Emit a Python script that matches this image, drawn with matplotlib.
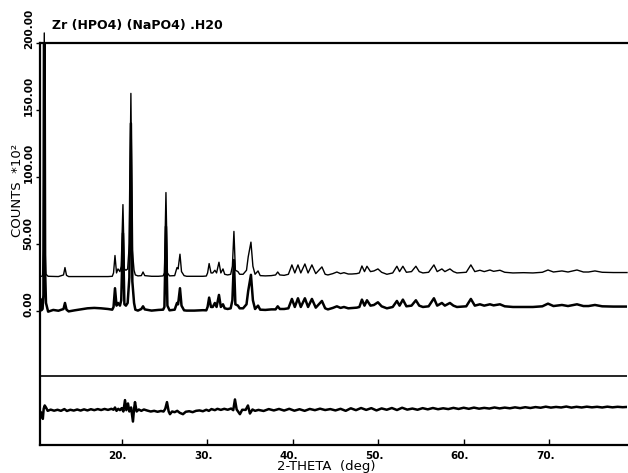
import numpy as np
import matplotlib
matplotlib.use("Agg")
import matplotlib.pyplot as plt
from matplotlib.transforms import ScaledTranslation

# 2-theta vertices shared by observed and calculated patterns
tt = [10.45, 10.52, 10.60, 10.75, 10.85, 10.95, 11.05, 11.15, 11.40, 12.00,
      12.60, 13.20, 13.37, 13.55, 13.80, 14.50, 15.20, 16.00, 16.80, 17.60,
      18.40, 18.90, 19.05, 19.22, 19.40, 19.57, 19.80, 19.95, 20.15, 20.32,
      20.50, 20.70, 20.90, 21.08, 21.25, 21.45, 21.60, 21.90, 22.30, 22.50,
      22.70, 23.50, 24.30, 24.85, 25.00, 25.18, 25.35, 25.60, 26.20, 26.47,
      26.60, 26.82, 27.00, 27.30, 27.60, 28.50, 29.50, 29.90, 30.05, 30.23,
      30.45, 30.65, 30.90, 31.10, 31.38, 31.60, 31.85, 32.05, 32.40, 32.75,
      32.95, 33.13, 33.30, 33.60, 33.80, 34.20, 34.60, 34.80, 35.12, 35.35,
      35.60, 35.95, 36.20, 36.80, 37.50, 38.00, 38.25, 38.50, 39.00, 39.50,
      39.91, 40.25, 40.62, 40.95, 41.43, 41.80, 42.25, 42.70, 43.42, 43.80,
      44.12, 44.70, 45.17, 45.60, 46.00, 46.50, 46.93, 47.50, 47.80, 48.10,
      48.40, 48.69, 49.10, 49.50, 49.97, 50.40, 51.02, 51.70, 52.19, 52.50,
      52.89, 53.30, 53.90, 54.41, 54.80, 55.23, 55.90, 56.52, 56.90, 57.45,
      57.80, 58.39, 58.80, 59.21, 60.30, 60.84, 61.30, 61.90, 62.40, 63.07,
      63.50, 64.24, 64.80, 65.76, 67.00, 68.10, 69.20, 69.86, 70.50, 71.49,
      72.20, 73.25, 74.00, 74.60, 75.35, 76.20, 77.50, 79.10]

calc = [0.5, 0.5, 0.5, 0.8, 20, 320, 20, 2, 0.5, 0.4,
        0.3, 1.5, 7, 1.2, 0.3, 0.3, 0.3, 0.3, 0.3, 0.3,
        0.3, 0.5, 3, 16, 3, 6, 4, 8, 54, 6,
        5, 6, 25, 137, 20, 5, 1.5, 0.8, 1, 3.7,
        1, 0.5, 0.5, 0.8, 3, 63, 3, 0.8, 1, 7,
        6, 17, 4, 1, 0.5, 0.5, 0.5, 0.7, 3, 10,
        3, 3, 5, 3, 11, 3, 6, 2, 1.5, 2,
        8, 34, 5, 4, 2, 2, 5, 15, 26, 8,
        2, 4.5, 1, 0.8, 1, 1.5, 3.7, 1.5, 1.2, 2,
        9, 3, 9, 3, 9.7, 3, 9, 2.5, 7.5, 2,
        1.5, 2.5, 3.7, 2.5, 3.2, 2.2, 2.2, 2.5, 3, 8.2,
        4, 8, 4, 4.5, 6, 3.5, 2, 3, 8, 4,
        8, 3.5, 4, 8, 4, 3, 3.5, 9, 4, 6,
        4, 6, 4, 3, 3.5, 9, 4, 5, 4, 5.2,
        4.2, 5, 3.5, 3, 3.2, 3, 3.5, 5.2, 3.7, 4.5,
        3.7, 5.2, 3.7, 3.7, 4.5, 3.5, 3.3, 3.3]

obs = [1, 9, 0.5, 1.5, 12, 320, 30, 6, -0.5, 0.8,
       0.2, 1.5, 6, 1, -0.3, 0.5, 1.2, 2, 2.3, 2,
       1.5, 1, 3, 17, 4, 6, 4, 8, 58, 5,
       4, 6, 25, 140, 22, 6, 1, 0.3, 1.5, 3.5,
       1.2, 0.3, 0.8, 1, 3, 63, 4, 0.5, 1, 6,
       5, 17, 4, 0.5, 0.3, 0.3, 0.6, 0.5, 3, 10,
       3, 3, 6, 3, 12, 3, 5, 2, 1.5, 2,
       8, 38, 5, 4, 2, 2, 5, 15, 27, 8,
       1.5, 4, 1, 0.8, 1.2, 1.2, 3.5, 1.5, 1.5, 2,
       9, 3, 9.5, 3, 9.5, 3, 9, 2.5, 7.5, 2,
       1.2, 2.3, 3.5, 2.3, 3, 2, 2.2, 2.5, 3, 8.5,
       4, 8, 4, 4.5, 6.5, 3.5, 2, 3, 7.5, 4,
       8.5, 3.5, 4, 8, 4, 3, 3.5, 9.5, 4, 6,
       4, 6, 4, 3, 3.5, 9, 4, 5, 4, 5,
       4.2, 5, 3.5, 3, 3, 3, 3.5, 5.5, 3.7, 4.5,
       3.7, 5, 3.7, 3.7, 4.5, 3.5, 3.3, 3.3]

# difference curve (obs - calc)
tt_diff = [10.45, 10.62, 10.78, 10.88, 11.00, 11.15, 11.35, 11.70, 12.10, 12.50,
           12.90, 13.30, 13.60, 14.00, 14.40, 14.80, 15.20, 15.60, 16.00, 16.40,
           16.80, 17.20, 17.60, 18.00, 18.40, 18.80, 19.05, 19.22, 19.40, 19.60,
           19.80, 20.00, 20.20, 20.39, 20.55, 20.74, 20.90, 21.10, 21.32, 21.45,
           21.56, 21.75, 22.00, 22.30, 22.60, 23.00, 23.40, 23.80, 24.20, 24.60,
           24.90, 25.10, 25.30, 25.50, 25.65, 25.90, 26.20, 26.50, 26.80, 27.17,
           27.50, 27.90, 28.30, 28.70, 29.10, 29.50, 29.90, 30.20, 30.50, 30.90,
           31.20, 31.60, 32.00, 32.40, 32.80, 33.05, 33.25, 33.45, 33.83, 34.10,
           34.50, 34.77, 35.00, 35.30, 35.60,
           36.0, 36.6, 37.2, 37.8, 38.4, 39.0, 39.6, 40.2, 40.8, 41.4,
           42.0, 42.6, 43.2, 43.8, 44.4, 45.0, 45.6, 46.2, 46.8, 47.4,
           48.0, 48.6, 49.2, 49.8, 50.4, 51.0, 51.6, 52.2, 52.8, 53.4,
           54.0, 54.6, 55.2, 55.8, 56.4, 57.0, 57.6, 58.2, 58.8, 59.4,
           60.0, 60.6, 61.2, 61.8, 62.4, 63.0, 63.6, 64.2, 64.8, 65.4,
           66.0, 66.6, 67.2, 67.8, 68.4, 69.0, 69.6, 70.2, 70.8, 71.4,
           72.0, 72.6, 73.2, 73.8, 74.4, 75.0, 75.6, 76.2, 76.8, 77.4,
           78.0, 78.6, 79.1]
diff = [-1, -2, -6.5, 1, 3.5, 2, -0.5, 0.4, -0.4, 0.3,
        -0.5, 0.8, -0.6, 0.3, -0.3, 0.5, -0.3, 0.6, -0.2, 0.7,
        0, 0.8, 0.1, 0.9, 0.2, 1, 0.3, 2, -0.5, 1,
        0, 1.5, -1, 7.5, 0, 5, -1, 2, -8.5, 1,
        6, -1, 0.5, -0.5, 0.5, -0.3, -1, -0.5, -1.2, -0.6,
        -1, 1, 6, -1, -3, -1, -1.5, -0.5, -2, -3,
        -1.2, -0.8, -1.5, -0.5, -0.2, -0.8, 0.3, -0.5, 0.8, 0,
        1, 0.2, 1, 0.3, 1.2, 0, 8, 0.5, -3, 0.3,
        0.2, 3.5, -2.5, 0.5, -0.5,
        0.2, -0.6, 0.8, -0.2, 0.9, -0.3, 1.0, -0.4, 0.7, -0.5,
        0.9, 0.0, 1.1, 0.1, 0.8, -0.2, 1.0, -0.5, 1.4, 0.0,
        1.6, 0.2, 1.5, -0.2, 1.3, 0.3, 1.6, 0.1, 1.8, 0.4,
        1.2, 0.3, 1.5, 0.6, 1.6, 0.7, 1.4, 0.8, 1.7, 0.9,
        1.8, 1.0, 1.9, 1.1, 1.7, 1.2, 2.0, 1.3, 1.9, 1.4,
        2.1, 1.5, 2.2, 1.6, 2.3, 1.8, 2.6, 1.9, 2.4, 2.0,
        2.7, 1.9, 2.5, 2.0, 2.6, 2.1, 2.5, 2.0, 2.6, 2.1,
        2.5, 2.2, 2.4]

calc_offset = 25.4
diff_offset = -74.0
sep_level = -48.5

xticks = [20, 30, 40, 50, 60, 70]
yticks = [0, 50, 100, 150, 200]

fig = plt.figure(figsize=(6.28, 4.73), dpi=100)
ax = fig.add_axes([40 / 628, 28 / 473, 587 / 628, 402 / 473])

ax.plot(tt, np.minimum(np.array(calc) + calc_offset, 207.5), color="black",
        lw=1.0, clip_on=False)
ax.plot(tt, obs, color="black", lw=1.8)
ax.axhline(sep_level, color="black", lw=1.2)
ax.plot(tt_diff, np.array(diff) + diff_offset, color="black", lw=1.8)

ax.set_xlim(10.45, 79.1)
ax.set_ylim(-100, 200)

for s in ["left", "bottom", "top"]:
    ax.spines[s].set_linewidth(1.6)
ax.spines["right"].set_visible(False)

ax.set_xticks(xticks)
ax.set_xticklabels([f"{v}." for v in xticks], fontsize=7.5, fontweight="bold")
ax.tick_params(axis="x", direction="in", length=4, width=1, pad=4)
off = ScaledTranslation(-4 / 100, 0, fig.dpi_scale_trans)
for lab in ax.get_xticklabels():
    lab.set_transform(lab.get_transform() + off)

ax.set_yticks(yticks)
ax.set_yticklabels([f"{v:.2f}" for v in yticks], fontsize=7.5,
                   fontweight="bold", rotation=90, va="bottom", ha="center")
ax.tick_params(axis="y", direction="out", length=3, width=1, pad=3)
off_y = ScaledTranslation(-3 / 100, -6 / 100, fig.dpi_scale_trans)
for lab in ax.get_yticklabels():
    lab.set_transform(lab.get_transform() + off_y)

fig.text(52 / 628, 1 - 25 / 473, "Zr (HPO4) (NaPO4) .H20", ha="left",
         va="center", fontsize=9, fontweight="bold")
fig.text(326 / 628, 1 - 466 / 473, "2-THETA  (deg)", ha="center",
         va="center", fontsize=9.5)
fig.text(18 / 628, 1 - 190 / 473, "COUNTS  *10²", rotation=90, ha="center",
         va="center", fontsize=9.5)

fig.savefig("out.png", dpi=100)
